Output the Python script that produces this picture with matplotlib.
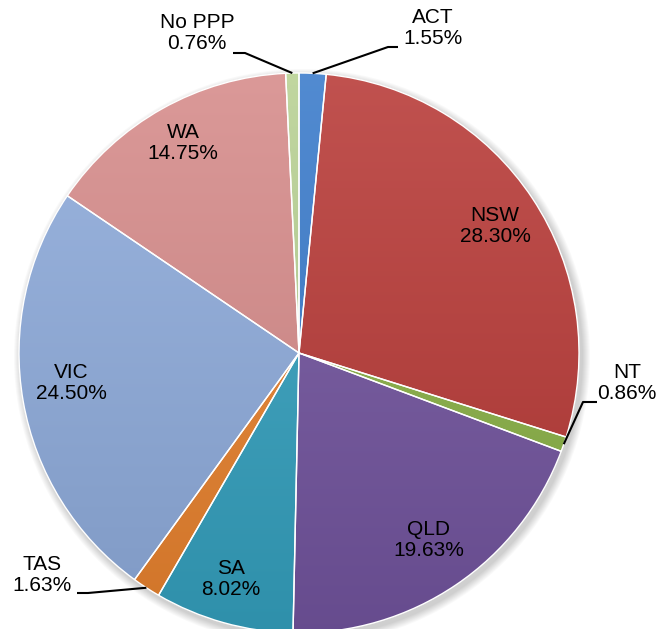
import numpy as np
import matplotlib
matplotlib.use('Agg')
import matplotlib.pyplot as plt
from matplotlib.colors import to_rgb

# data, clockwise from 12 o'clock
states = ['ACT', 'NSW', 'NT', 'QLD', 'SA', 'TAS', 'VIC', 'WA', 'No PPP']
shares = [1.55, 28.30, 0.86, 19.63, 8.02, 1.63, 24.50, 14.75, 0.76]
colors = ['#3A7BCB', '#B83A37', '#8AB146', '#72549E', '#34A0BE',
          '#E8822E', '#8EABDB', '#D68B8A', '#B8D193']

W, H = 661, 629
cx, cy, r = 299, H - 353, 280

# label centres in pixels from the top-left corner
label_pos = {
    'ACT': (433, 28), 'NSW': (495, 226), 'NT': (627, 383), 'QLD': (429, 540),
    'SA': (231, 579), 'TAS': (42, 575), 'VIC': (71, 383), 'WA': (183, 143),
    'No PPP': (197, 33),
}
# leader lines: (elbow, end) in pixels from top-left
leaders = {
    'ACT': ((388, 47), (398, 47)),
    'No PPP': ((245, 53), (233, 53)),
    'NT': ((583, 402), (597, 402)),
    'TAS': ((88, 593), (77, 593)),
}

plt.rcParams['font.family'] = ['Liberation Sans', 'DejaVu Sans']

fig = plt.figure(figsize=(W / 100, H / 100), dpi=100)
ax = fig.add_axes([0, 0, 1, 1])

# soft shadow
for k in range(8):
    c = plt.Circle((cx + 3, cy - 4), r + 1 + k, color='black', alpha=0.025, zorder=0, lw=0)
    ax.add_patch(c)

wedges, _ = ax.pie(shares, colors=colors, startangle=90, counterclock=False,
                   center=(cx, cy), radius=r,
                   wedgeprops=dict(edgecolor='none', linewidth=0))

# vertical gradient, lighter at the top, darker at the bottom
t = np.linspace(0, 1, 256)[:, None]  # 0 bottom, 1 top
for w, col in zip(wedges, colors):
    base = np.array(to_rgb(col))
    light = base + (1 - base) * 0.12
    dark = base * 0.9
    img = dark[None, :] * (1 - t) + light[None, :] * t
    img = img[:, None, :]
    im = ax.imshow(img, extent=(cx - r, cx + r, cy - r, cy + r), origin='lower',
                   aspect='auto', zorder=2, interpolation='bilinear')
    im.set_clip_path(w)

# white edges on top
ax.pie(shares, startangle=90, counterclock=False, center=(cx, cy), radius=r,
       wedgeprops=dict(facecolor='none', edgecolor='white', linewidth=1.0, zorder=3))

ax.set_xlim(0, W)
ax.set_ylim(0, H)
ax.set_aspect('auto')
ax.axis('off')

# labels
cum = 0.0
for name, val in zip(states, shares):
    mid = cum + val / 2
    cum += val
    ang = np.deg2rad(90 - mid * 3.6)
    lx, ly = label_pos[name]
    ax.text(lx, H - ly, '%s\n%.2f%%' % (name, val), ha='center', va='center',
            fontsize=15, color='black', linespacing=1.15, zorder=5)
    if name in leaders:
        px, py = cx + r * np.cos(ang), cy + r * np.sin(ang)
        (ex, ey), (fx, fy) = leaders[name]
        ax.plot([px, ex, fx], [py, H - ey, H - fy], color='black', lw=1.5,
                zorder=5, solid_capstyle='butt')

fig.savefig('out.png', dpi=100)
